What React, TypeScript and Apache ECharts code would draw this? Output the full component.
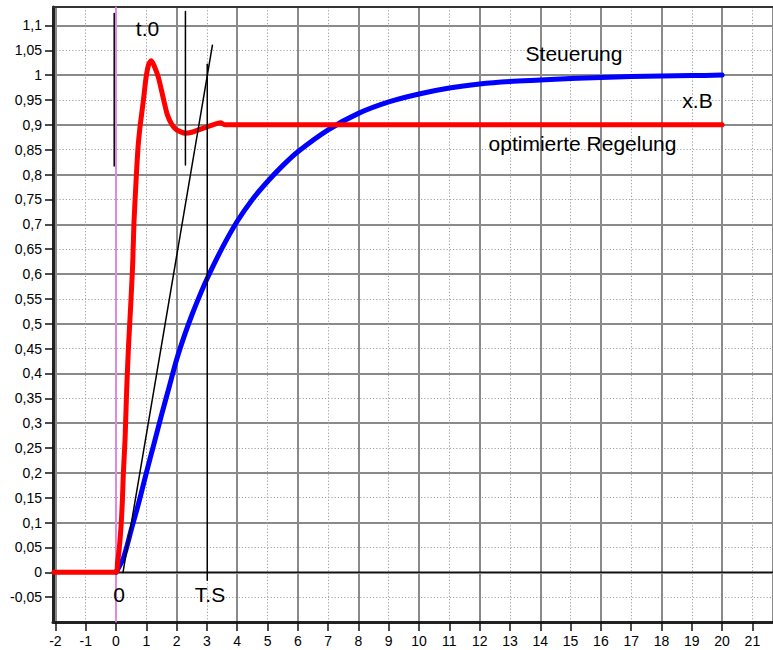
import React, { useEffect, useRef } from "react";
import * as echarts from "echarts";

// Axis extents
const X_MIN = -2.08;
const X_TICK_MIN = -2;
const X_MAX = 21.68;
const Y_MIN = -0.1;
const Y_MAX = 1.137;

// Steuerung (blue)
const steuerungX = [0, 0.25, 0.5, 0.75, 1.0, 1.25, 1.5, 1.75, 2.0, 2.25, 2.5, 2.75, 3.0, 3.5, 4.0, 4.5, 5.0, 5.5, 6, 7, 8, 9, 10, 11, 12, 13, 14, 15, 16, 17, 18, 19, 20];
const steuerungY = [0, 0.03, 0.085, 0.14, 0.2, 0.258, 0.316, 0.372, 0.428, 0.475, 0.517, 0.555, 0.59, 0.652, 0.706, 0.75, 0.786, 0.818, 0.846, 0.89, 0.923, 0.946, 0.962, 0.974, 0.982, 0.987, 0.99, 0.993, 0.995, 0.997, 0.998, 0.999, 1.0];

// optimierte Regelung (red)
const regelungX = [-2.05, 0, 0.05, 0.11, 0.17, 0.21, 0.24, 0.3, 0.35, 0.41, 0.48, 0.55, 0.59, 0.66, 0.72, 0.79, 0.9, 0.99, 1.07, 1.155, 1.25, 1.4, 1.58, 1.69, 1.84, 2.0, 2.28, 2.5, 2.77, 3.0, 3.2, 3.45, 3.6, 20];
const regelungY = [0, 0, 0.02, 0.05, 0.097, 0.144, 0.197, 0.27, 0.365, 0.452, 0.532, 0.62, 0.7, 0.786, 0.85, 0.895, 0.948, 0.995, 1.02, 1.029, 1.02, 0.995, 0.948, 0.921, 0.901, 0.89, 0.883, 0.885, 0.891, 0.896, 0.9, 0.904, 0.9, 0.9];

// construction lines (black)
const tangentX = [0.23, 3.18];
const tangentY = [0, 1.06];
const t0LeftX = [-0.06, -0.06];
const t0LeftY = [1.124, 0.817];
const t0RightX = [2.29, 2.29];
const t0RightY = [1.128, 0.819];
const tsX = [3.01, 3.01];
const tsY = [1.022, -0.016];

// reference lines
const pinkX = [0, 0];
const pinkY = [Y_MIN, Y_MAX];
const zeroX = [X_MIN, X_MAX];
const zeroY = [0, 0];

// tick labels
const yTickValues = [-0.05, 0, 0.05, 0.1, 0.15, 0.2, 0.25, 0.3, 0.35, 0.4, 0.45, 0.5, 0.55, 0.6, 0.65, 0.7, 0.75, 0.8, 0.85, 0.9, 0.95, 1, 1.05, 1.1];
const xTickValues = [-2, -1, 0, 1, 2, 3, 4, 5, 6, 7, 8, 9, 10, 11, 12, 13, 14, 15, 16, 17, 18, 19, 20, 21];

const zip = (xs: number[], ys: number[]) => xs.map((x, i) => [x, ys[i]]);

const fmtY = (v: number) => {
  if (v < -0.06 || v > 1.11) return "";
  let s = v.toFixed(2);
  s = s.replace(/0+$/, "").replace(/\.$/, "");
  if (s === "-0") s = "0";
  return s.replace(".", ",");
};

const FONT = '"Liberation Sans", Arial, sans-serif';

// fresh style objects for every axis (no shared references)
const solidGrid = () => ({ color: "#8a8a8a", width: 2, type: "solid" });
const dottedGrid = () => ({ color: "#a0a0a0", width: 1, type: [1.2, 2] });

const lineSeries = (name: string, data: number[][], color: string, width: number, z: number, smooth: number | boolean = false) => ({
  type: "line",
  name,
  xAxisIndex: 0,
  yAxisIndex: 0,
  data,
  symbol: "none",
  showSymbol: false,
  silent: true,
  smooth,
  z,
  lineStyle: { color, width, type: "solid", cap: "round", join: "round" },
});

const txt = (text: string, x: number, y: number, size: number) => ({
  type: "text",
  x,
  y,
  z: 100,
  style: {
    text,
    font: `${size}px ${FONT}`,
    fill: "#000",
    textAlign: "center",
    textVerticalAlign: "middle",
    align: "center",
    verticalAlign: "middle",
  },
});

export default function App() {
  const ref = useRef<HTMLDivElement>(null);
  useEffect(() => {
    if (!ref.current) return;
    const chart = echarts.init(ref.current, undefined, { renderer: "svg" });
    chart.setOption({
      animation: false,
      backgroundColor: "#ffffff",
      grid: [
        { left: 53, right: 0, top: 7, bottom: 28 },
        { left: 55.4, right: 0, top: 7, bottom: 28 },
      ],
      xAxis: [
        {
          gridIndex: 0, type: "value", position: "bottom", min: X_MIN, max: X_MAX,
          axisLine: { show: true, onZero: false, lineStyle: { color: "#222", width: 3, type: "solid" } },
          axisTick: { show: false }, axisLabel: { show: false }, splitLine: { show: false },
        },
        {
          gridIndex: 0, type: "value", position: "top", min: X_MIN, max: X_MAX,
          axisLine: { show: true, onZero: false, lineStyle: { color: "#333", width: 2, type: "solid" } },
          axisTick: { show: false }, axisLabel: { show: false }, splitLine: { show: false },
        },
        {
          gridIndex: 1, type: "value", position: "bottom", min: X_TICK_MIN, max: X_MAX, interval: 1,
          axisLine: { show: false, onZero: false },
          axisTick: { show: true, length: 9, customValues: xTickValues, lineStyle: { color: "#111", width: 1.5, type: "solid" } },
          axisLabel: {
            show: true, interval: 0, margin: 12, color: "#000", fontSize: 14, fontFamily: FONT,
            customValues: xTickValues,
            formatter: (v: number) => (Number.isInteger(v) ? String(v) : ""),
          },
          splitLine: { show: false },
        },
        {
          gridIndex: 1, type: "value", position: "top", min: X_TICK_MIN, max: X_MAX, interval: 2,
          axisLine: { show: false }, axisTick: { show: false }, axisLabel: { show: false },
          splitLine: { show: true, lineStyle: solidGrid() },
          minorTick: { show: false, splitNumber: 2 },
          minorSplitLine: { show: true, lineStyle: dottedGrid() },
        },
      ],
      yAxis: [
        {
          gridIndex: 0, type: "value", position: "left", min: Y_MIN, max: Y_MAX, interval: 0.05,
          axisLine: { show: true, onZero: false, lineStyle: { color: "#222", width: 3, type: "solid" } },
          axisTick: { show: true, length: 8, customValues: yTickValues, lineStyle: { color: "#111", width: 1.5, type: "solid" } },
          axisLabel: {
            show: true, interval: 0, margin: 11, color: "#000", fontSize: 14, fontFamily: FONT,
            customValues: yTickValues,
            formatter: fmtY,
          },
          splitLine: { show: false },
        },
        {
          gridIndex: 0, type: "value", position: "right", min: Y_MIN, max: Y_MAX, interval: 0.1,
          axisLine: { show: false }, axisTick: { show: false }, axisLabel: { show: false },
          splitLine: { show: true, lineStyle: solidGrid() },
          minorTick: { show: false, splitNumber: 2 },
          minorSplitLine: { show: true, lineStyle: dottedGrid() },
        },
        { gridIndex: 1, type: "value", min: Y_MIN, max: Y_MAX, show: false },
      ],
      series: [
        lineSeries("pink", zip(pinkX, pinkY), "#ff88ff", 1.5, 2),
        lineSeries("zero", zip(zeroX, zeroY), "#111", 1.5, 3),
        lineSeries("Steuerung", zip(steuerungX, steuerungY), "#0000ff", 5, 5, 0.3),
        lineSeries("optimierte Regelung", zip(regelungX, regelungY), "#ff0000", 5, 6, 0.2),
        lineSeries("tangent", zip(tangentX, tangentY), "#000", 1.5, 7),
        lineSeries("t0 left", zip(t0LeftX, t0LeftY), "#000", 1.5, 7),
        lineSeries("t0 right", zip(t0RightX, t0RightY), "#000", 1.5, 7),
        lineSeries("T.S", zip(tsX, tsY), "#000", 1.5, 7),
      ],
      graphic: [
        txt("Steuerung", 574, 53, 21),
        txt("x.B", 697.5, 100, 21),
        txt("optimierte Regelung", 582.5, 143.5, 21),
        txt("t.0", 147.5, 28.5, 21),
        txt("0", 119, 594.5, 21),
        txt("T.S", 210, 594, 21),
      ],
    });
    return () => chart.dispose();
  }, []);
  return (
    <div
      ref={ref}
      style={{ position: "absolute", left: 0, top: 0, width: 773, height: 650, background: "#fff" }}
    />
  );
}
